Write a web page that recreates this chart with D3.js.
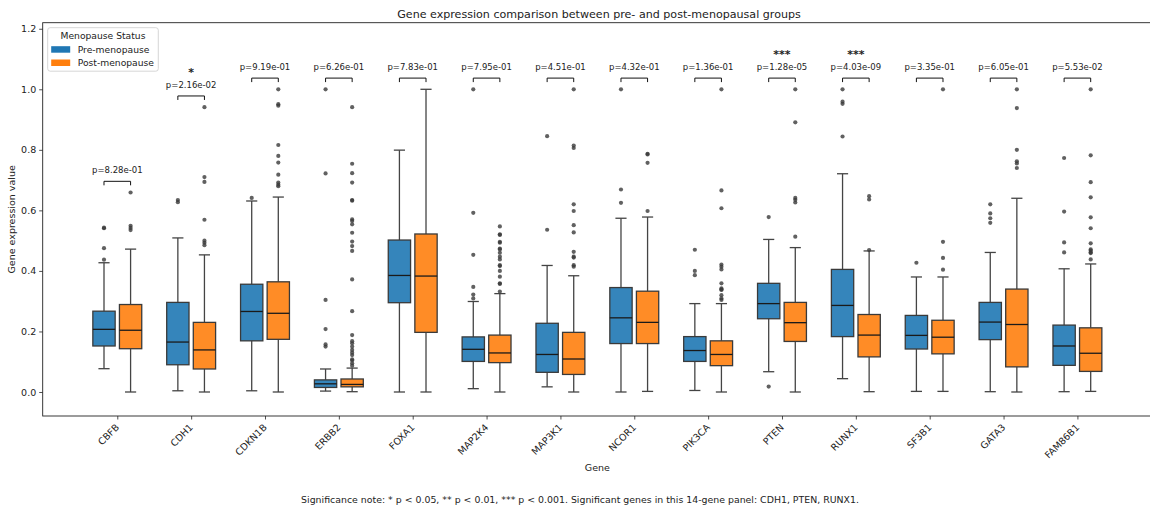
<!DOCTYPE html>
<html><head><meta charset="utf-8">
<script src="https://cdn.jsdelivr.net/npm/d3@7"></script>
<style>
body{margin:0;background:#fff;}
svg text{font-family:"DejaVu Sans",sans-serif;fill:#222;}
</style></head>
<body><svg id="chart" width="1150" height="508"></svg>
<script>
const genes = ["CBFB","CDH1","CDKN1B","ERBB2","FOXA1","MAP2K4","MAP3K1","NCOR1","PIK3CA","PTEN","RUNX1","SF3B1","GATA3","FAM86B1"];
const groups = ["Pre-menopause","Post-menopause"];
const pLabels = ["p=8.28e-01","p=2.16e-02","p=9.19e-01","p=6.26e-01","p=7.83e-01","p=7.95e-01","p=4.51e-01","p=4.32e-01","p=1.36e-01","p=1.28e-05","p=4.03e-09","p=3.35e-01","p=6.05e-01","p=5.53e-02"];
const stars = ["","*","","","","","","","","***","***","","",""];
const yTicks = [0.0,0.2,0.4,0.6,0.8,1.0,1.2];

// Pre-menopause box statistics
const preQ1  = [0.152,0.090,0.169,0.015,0.295,0.101,0.065,0.160,0.101,0.242,0.183,0.142,0.173,0.088];
const preMed = [0.207,0.165,0.266,0.027,0.385,0.141,0.124,0.245,0.137,0.292,0.286,0.187,0.231,0.152];
const preQ3  = [0.267,0.296,0.356,0.040,0.502,0.182,0.227,0.345,0.183,0.359,0.405,0.253,0.296,0.221];
const preLo  = [0.077,0.004,0.004,0.003,0.000,0.011,0.017,0.000,0.005,0.067,0.044,0.002,0.001,0.001];
const preHi  = [0.427,0.509,0.631,0.076,0.799,0.299,0.418,0.574,0.292,0.504,0.721,0.380,0.461,0.407];
const preOut = [
  [0.541,0.543,0.475,0.437],
  [0.634,0.627],
  [0.641],
  [1.0,0.722,0.304,0.208,0.157,0.150],
  [],
  [1.0,0.592,0.453,0.347,0.322,0.309],
  [0.845,0.536],
  [1.0,0.669,0.625],
  [0.470,0.400,0.386],
  [0.578,0.018],
  [1.0,0.959,0.952,0.844],
  [0.427],
  [0.620,0.590,0.574,0.559],
  [0.773,0.596,0.494,0.461]
];

// Post-menopause box statistics
const postQ1  = [0.143,0.076,0.174,0.017,0.197,0.097,0.058,0.160,0.087,0.167,0.116,0.126,0.083,0.068];
const postMed = [0.204,0.139,0.260,0.025,0.383,0.129,0.109,0.230,0.124,0.229,0.188,0.181,0.223,0.128];
const postQ3  = [0.289,0.230,0.364,0.043,0.522,0.188,0.197,0.333,0.169,0.296,0.256,0.237,0.340,0.212];
const postLo  = [0.000,0.000,0.000,0.001,0.000,0.000,0.000,0.002,0.000,0.000,0.001,0.002,0.000,0.002];
const postHi  = [0.472,0.453,0.644,0.079,1.000,0.325,0.384,0.578,0.292,0.477,0.466,0.380,0.640,0.423];
const postOut = [
  [0.659,0.549,0.542,0.535],
  [0.941,0.710,0.694,0.569,0.500,0.493,0.485],
  [1.0,0.951,0.946,0.816,0.780,0.758,0.718,0.692,0.685,0.680],
  [0.941,0.754,0.723,0.692,0.634,0.632,0.570,0.565,0.554,0.526,0.497,0.482,0.466,0.372,0.267,0.188,0.168,0.161,0.150,0.139,0.130,0.122,0.108,0.104,0.095,0.087],
  [],
  [0.547,0.521,0.519,0.496,0.493,0.474,0.471,0.460,0.447,0.438,0.419,0.416,0.400,0.381,0.359,0.357,0.332],
  [1.0,0.814,0.806,0.620,0.598,0.551,0.527,0.463,0.447,0.444,0.419,0.414],
  [0.785,0.787,0.757,0.598],
  [1.0,0.666,0.607,0.421,0.414,0.405,0.359,0.342,0.339,0.337,0.320,0.309,0.304],
  [1.0,0.891,0.641,0.635,0.626,0.513],
  [0.647,0.636,0.469],
  [1.0,0.496,0.443,0.404],
  [1.0,0.938,0.800,0.762,0.755,0.740],
  [1.0,0.782,0.693,0.643,0.577,0.541,0.491,0.471,0.467,0.461,0.459,0.438]
];

const colors = ["#1f77b4","#ff7f0e"];
const fills = ["#3585bb","#ff8c26"];

const svg = d3.select("#chart");
const L = 42.7, R = 1152, T = 22.7, B = 416;
const x = d3.scaleLinear().domain([-1.01, genes.length + 0.01]).range([L, R]);
const y = d3.scaleLinear().domain([-0.0793, 1.220]).range([B, T]);
const off = 0.18, bw = 0.302;

// axes
const yAxis = d3.axisLeft(y).tickValues(yTicks).tickFormat(d3.format(".1f")).tickSize(3.5).tickPadding(3);
const gy = svg.append("g").attr("transform",`translate(${L},0)`).call(yAxis);
gy.select(".domain").remove();
gy.selectAll("text").style("font-size","9.5px").attr("fill","#222");
gy.selectAll("line").attr("stroke","#222").attr("stroke-width",0.8);

const xAxis = d3.axisBottom(x).tickValues(d3.range(genes.length)).tickFormat(i=>genes[i]).tickSize(3.5);
const gx = svg.append("g").attr("transform",`translate(0,${B})`).call(xAxis);
gx.select(".domain").remove();
gx.selectAll("line").attr("stroke","#222").attr("stroke-width",0.8);
gx.selectAll("text").style("font-size","9.5px").attr("fill","#222")
  .attr("text-anchor","end").attr("dy",null).attr("y",null)
  .attr("transform","translate(2,12) rotate(-45)");

// frame
svg.append("rect").attr("x",L).attr("y",T).attr("width",R-L).attr("height",B-T)
  .attr("fill","none").attr("stroke","#222").attr("stroke-width",0.9);

// boxes
const stats = [
  {q1:preQ1,med:preMed,q3:preQ3,lo:preLo,hi:preHi,out:preOut},
  {q1:postQ1,med:postMed,q3:postQ3,lo:postLo,hi:postHi,out:postOut}
];
const plot = svg.append("g");
genes.forEach((g,i)=>{
  stats.forEach((s,k)=>{
    const cx = i + (k===0?-off:off);
    const xl = x(cx - bw/2), xr = x(cx + bw/2), xc = x(cx);
    const capL = x(cx - bw/4), capR = x(cx + bw/4);
    const grp = plot.append("g");
    grp.append("line").attr("x1",xc).attr("x2",xc).attr("y1",y(s.q3[i])).attr("y2",y(s.hi[i]))
      .attr("stroke","#444").attr("stroke-width",1.3);
    grp.append("line").attr("x1",xc).attr("x2",xc).attr("y1",y(s.q1[i])).attr("y2",y(s.lo[i]))
      .attr("stroke","#444").attr("stroke-width",1.3);
    grp.append("line").attr("x1",capL).attr("x2",capR).attr("y1",y(s.hi[i])).attr("y2",y(s.hi[i]))
      .attr("stroke","#444").attr("stroke-width",1.3);
    grp.append("line").attr("x1",capL).attr("x2",capR).attr("y1",y(s.lo[i])).attr("y2",y(s.lo[i]))
      .attr("stroke","#444").attr("stroke-width",1.3);
    grp.append("rect").attr("x",xl).attr("y",y(s.q3[i])).attr("width",xr-xl)
      .attr("height",y(s.q1[i])-y(s.q3[i])).attr("fill",fills[k])
      .attr("stroke","#3a3a3a").attr("stroke-width",1.3);
    grp.append("line").attr("x1",xl).attr("x2",xr).attr("y1",y(s.med[i])).attr("y2",y(s.med[i]))
      .attr("stroke","#1a1a1a").attr("stroke-width",1.3);
    grp.selectAll("circle").data(s.out[i]).enter().append("circle")
      .attr("cx",xc).attr("cy",d=>y(d)).attr("r",2.1)
      .attr("fill","#3a3a3a").attr("fill-opacity",0.8);
  });
  // significance bracket
  const top = d3.max([preHi[i], postHi[i], d3.max(preOut[i])||0, d3.max(postOut[i])||0]) + 0.037;
  const yb = y(top);
  const xa = x(i-off), xb = x(i+off);
  svg.append("path").attr("d",`M${xa},${yb+4}V${yb}H${xb}V${yb+4}`)
    .attr("fill","none").attr("stroke","#111").attr("stroke-width",1);
  svg.append("text").attr("x",x(i)).attr("y",yb-8).attr("text-anchor","middle")
    .style("font-size","8.5px").text(pLabels[i]);
  if (stars[i]) {
    svg.append("text").attr("x",x(i)).attr("y",yb-20).attr("text-anchor","middle")
      .style("font-size","11px").style("font-weight","bold").text(stars[i]);
  }
});

// titles
svg.append("text").attr("x",599).attr("y",18).attr("text-anchor","middle")
  .style("font-size","11.1px").text("Gene expression comparison between pre- and post-menopausal groups");
svg.append("text").attr("x",(L+R)/2).attr("y",471).attr("text-anchor","middle")
  .style("font-size","9.5px").text("Gene");
svg.append("text").attr("transform",`translate(15,${(T+B)/2}) rotate(-90)`).attr("text-anchor","middle")
  .style("font-size","9.5px").text("Gene expression value");
svg.append("text").attr("x",580).attr("y",503).attr("text-anchor","middle")
  .style("font-size","9.4px").text("Significance note: * p < 0.05, ** p < 0.01, *** p < 0.001. Significant genes in this 14-gene panel: CDH1, PTEN, RUNX1.");

// legend
const lg = svg.append("g").attr("transform","translate(47.7,27.7)");
lg.append("rect").attr("width",110.6).attr("height",43.5).attr("rx",2.5)
  .attr("fill","#fff").attr("fill-opacity",0.8).attr("stroke","#ccc").attr("stroke-width",0.8);
lg.append("text").attr("x",55.3).attr("y",11).attr("text-anchor","middle")
  .style("font-size","9.2px").text("Menopause Status");
groups.forEach((g,k)=>{
  lg.append("rect").attr("x",3.5).attr("y",18.5+k*13.3).attr("width",19).attr("height",6.5).attr("fill",colors[k]);
  lg.append("text").attr("x",30).attr("y",25.3+k*13.3).style("font-size","9.2px").text(g);
});
</script></body></html>
